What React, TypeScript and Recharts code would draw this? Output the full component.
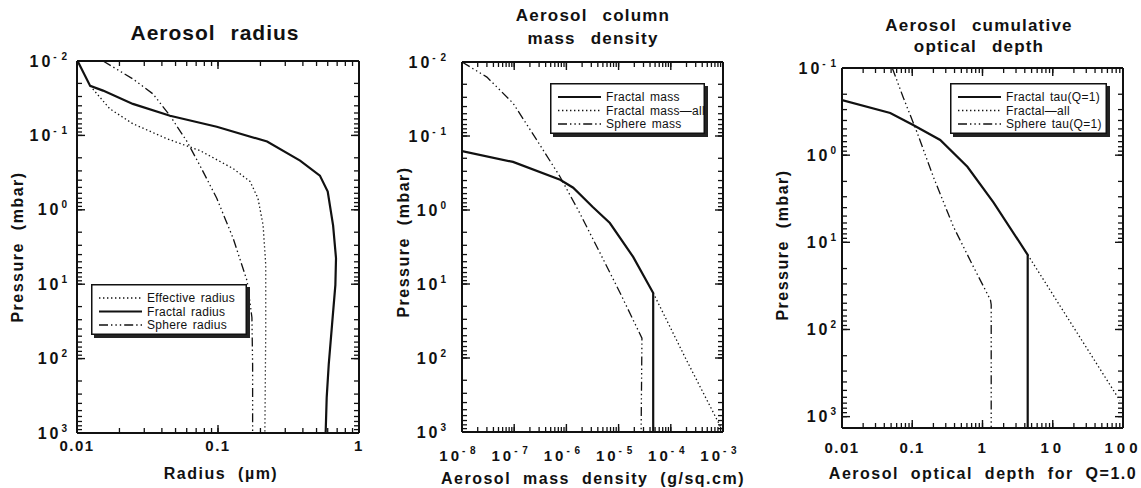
import React from "react";
import { LineChart, Line, XAxis, YAxis, Legend } from "recharts";

const FONT = '"Liberation Sans", Arial, Helvetica, sans-serif';
const INK = "#111";

// --- aerosol radius (um) vs pressure (mbar)
const fractalRadiusP = [0.01, 0.0216, 0.025, 0.0377, 0.0544, 0.0766, 0.121, 0.218, 0.347, 0.567, 1.62, 4.47, 10.2, 35, 120, 335, 1000];
const fractalRadiusR = [0.0101, 0.0124, 0.0153, 0.0249, 0.0457, 0.098, 0.223, 0.382, 0.528, 0.6, 0.655, 0.687, 0.68, 0.644, 0.61, 0.59, 0.58];
const effectiveRadiusP = [0.0216, 0.044, 0.0697, 0.111, 0.16, 0.279, 0.417, 0.7, 1.62, 5.5, 43, 1000];
const effectiveRadiusR = [0.0124, 0.0171, 0.0249, 0.0435, 0.0745, 0.128, 0.169, 0.192, 0.209, 0.218, 0.218, 0.215];
const sphereRadiusP = [0.01, 0.0174, 0.0277, 0.0544, 0.121, 0.255, 0.7, 2.41, 9.1, 28, 120, 1000];
const sphereRadiusR = [0.0153, 0.0249, 0.0346, 0.0457, 0.0603, 0.0745, 0.098, 0.128, 0.161, 0.174, 0.176, 0.176];

// --- column mass density (g/sq.cm) vs pressure
const fractalMassP = [0.16, 0.224, 0.39, 0.5, 0.91, 1.5, 4.3, 13.2, 1000];
const fractalMassM = [1e-8, 9.5e-8, 7.6e-7, 1.35e-6, 3.2e-6, 6.8e-6, 1.9e-5, 4.6e-5, 4.6e-5];
const fractalMassAllP = [13.2, 107, 850];
const fractalMassAllM = [4.6e-5, 2.0e-4, 9.0e-4];
const sphereMassP = [0.01, 0.016, 0.036, 0.113, 0.358, 1.1, 3.8, 13.2, 54, 1000];
const sphereMassM = [1e-8, 3.0e-8, 9.5e-8, 2.7e-7, 7.6e-7, 1.8e-6, 4.4e-6, 1.07e-5, 2.8e-5, 2.7e-5];

// --- cumulative optical depth (Q=1) vs pressure
const fractalTauP = [0.233, 0.328, 0.45, 0.67, 1.36, 3.5, 13.9, 1350];
const fractalTauT = [0.01, 0.0486, 0.103, 0.25, 0.61, 1.44, 4.4, 4.4];
const fractalAllP = [13.9, 650];
const fractalAllT = [4.4, 90];
const sphereTauP = [0.1, 0.215, 0.557, 1.78, 6.6, 19, 46, 52, 1350];
const sphereTauT = [0.052, 0.074, 0.118, 0.2, 0.385, 0.74, 1.3, 1.33, 1.33];

const DOTTED = "1.4 2.6";
const DASHDOT = "9 3 1.4 3 1.4 3 1.4 3";
const TICK_IN = 5; // inward tick length

type Pt = { x: number; p: number };
type Series = { name: string; data: Pt[]; dash?: string; width: number };

const zip = (xs: number[], ps: number[]): Pt[] => xs.map((x, i) => ({ x, p: ps[i] }));

// 1..9 x 10^e for every decade, plus the closing power of ten
const logTicks = (lo: number, hi: number) => {
  const out: number[] = [];
  for (let e = lo; e < hi; e++) for (let m = 1; m < 10; m++) out.push(m * Math.pow(10, e));
  out.push(Math.pow(10, hi));
  return out;
};

const isMajor = (v: number) => {
  const l = Math.log10(v);
  return Math.abs(l - Math.round(l)) < 1e-6;
};

const pow10 = (v: number) => {
  const e = Math.round(Math.log10(v));
  return (
    <>
      <tspan letterSpacing={3}>10</tspan>
      <tspan dy={-7} fontSize={10} letterSpacing={1}>{e < 0 ? `- ${-e}` : `${e}`}</tspan>
    </>
  );
};

const decimal = (v: number) => {
  if (v >= 10) return <tspan letterSpacing={4}>{String(Math.round(v))}</tspan>;
  return <tspan letterSpacing={1.5}>{String(Number(v.toPrecision(2)))}</tspan>;
};

// decade labels outside the frame, plus a longer inward mark at each decade
function AxisTick(props: any) {
  const { x, y, payload, side, format, gap = 8, dx = 0 } = props;
  const v = Number(payload.value);
  const major = isMajor(v);
  const px = Number(x);
  const py = Number(y);
  const ink = { stroke: INK, strokeWidth: 1.4 };
  const txt = { fill: INK, fontFamily: FONT, fontWeight: 700 };
  const len = 8;
  let mark = null;
  if (major) {
    if (side === "left") mark = <path d={`M${px},${py}h${len}`} {...ink} />;
    else if (side === "right") mark = <path d={`M${px},${py}h${-len}`} {...ink} />;
    else if (side === "top") mark = <path d={`M${px},${py}v${len}`} {...ink} />;
    else mark = <path d={`M${px},${py}v${-len}`} {...ink} />;
  }
  let label = null;
  if (major && format && side === "left") {
    label = (
      <text x={px - gap} y={py} dy="0.35em" textAnchor="end" fontSize={16} {...txt}>
        {format(v)}
      </text>
    );
  } else if (major && format && side === "bottom") {
    label = (
      <text x={px + dx} y={py + gap} textAnchor="middle" fontSize={15} {...txt}>
        {format(v)}
      </text>
    );
  }
  return (
    <g>
      {mark}
      {label}
    </g>
  );
}

function LegendBox({ series, width }: { series: Series[]; width: number }) {
  const height = 51;
  return (
    <svg width={width + 4} height={height + 4} style={{ display: "block" }}>
      <rect x={3} y={3} width={width} height={height} fill="#222" />
      <rect x={0.75} y={0.75} width={width - 1.5} height={height - 1.5} fill="#fff" stroke={INK} strokeWidth={1.5} />
      {series.map((s, i) => {
        const ry = 14 + i * 13.5;
        return (
          <g key={s.name}>
            <line x1={8} x2={51} y1={ry} y2={ry} stroke={INK} strokeWidth={s.width} strokeDasharray={s.dash} />
            <text x={56} y={ry} dy="0.35em" fontSize={12} fontFamily={FONT} fill={INK} letterSpacing={0.3} wordSpacing={1.5}>
              {s.name}
            </text>
          </g>
        );
      })}
    </svg>
  );
}

type PanelProps = {
  width: number;
  margin: { top: number; right: number; bottom: number; left: number };
  xDomain: [number, number];
  yDomain: [number, number];
  xTicks: number[];
  yTicks: number[];
  xFormat: (v: number) => React.ReactNode;
  xGap: number;
  xDx?: number;
  yGap: number;
  series: Series[];
  legendAt: { left: number; top: number; width: number };
};

function Panel(p: PanelProps) {
  const axisLine = { stroke: INK, strokeWidth: 2 };
  const tickLine = { stroke: INK, strokeWidth: 1.3 };
  // axes are 1px thick so they still render; margins are trimmed to compensate.
  // A negative tickSize turns the library's tick marks inward; tickMargin puts the label anchor back on the frame.
  const m = { top: p.margin.top - 1, right: p.margin.right - 1, bottom: p.margin.bottom - 1, left: p.margin.left - 1 };
  const common = {
    type: "number" as const,
    scale: "log" as const,
    allowDataOverflow: true,
    interval: 0 as const,
    tickSize: -TICK_IN,
    tickMargin: TICK_IN,
    tickLine,
    axisLine,
  };
  return (
    <LineChart width={p.width} height={488} margin={m}>
      <XAxis
        {...common}
        xAxisId="b"
        dataKey="x"
        domain={p.xDomain}
        ticks={p.xTicks}
        height={1}
        tick={(t: any) => <AxisTick {...t} side="bottom" format={p.xFormat} gap={p.xGap} dx={p.xDx} />}
      />
      <XAxis
        {...common}
        xAxisId="t"
        orientation="top"
        dataKey="x"
        domain={p.xDomain}
        ticks={p.xTicks}
        height={1}
        tick={(t: any) => <AxisTick {...t} side="top" />}
      />
      <YAxis
        {...common}
        yAxisId="l"
        dataKey="p"
        reversed
        domain={p.yDomain}
        ticks={p.yTicks}
        width={1}
        tick={(t: any) => <AxisTick {...t} side="left" format={pow10} gap={p.yGap} />}
      />
      <YAxis
        {...common}
        yAxisId="r"
        orientation="right"
        dataKey="p"
        reversed
        domain={p.yDomain}
        ticks={p.yTicks}
        width={1}
        tick={(t: any) => <AxisTick {...t} side="right" />}
      />
      {p.series.map((s) => (
        <Line
          key={s.name}
          xAxisId="b"
          yAxisId="l"
          data={s.data}
          dataKey="p"
          name={s.name}
          type="linear"
          stroke={INK}
          strokeWidth={s.width}
          strokeDasharray={s.dash}
          dot={false}
          activeDot={false}
          isAnimationActive={false}
        />
      ))}
      <Legend
        layout="horizontal"
        verticalAlign="middle"
        align="center"
        wrapperStyle={{ left: p.legendAt.left, top: p.legendAt.top, width: p.legendAt.width + 4, height: 55 }}
        content={() => <LegendBox series={p.series} width={p.legendAt.width} />}
      />
    </LineChart>
  );
}

const radiusSeries: Series[] = [
  { name: "Effective radius", data: zip(effectiveRadiusR, effectiveRadiusP), dash: DOTTED, width: 1.3 },
  { name: "Fractal radius", data: zip(fractalRadiusR, fractalRadiusP), width: 2.2 },
  { name: "Sphere radius", data: zip(sphereRadiusR, sphereRadiusP), dash: DASHDOT, width: 1.3 },
];

const massSeries: Series[] = [
  { name: "Fractal mass", data: zip(fractalMassM, fractalMassP), width: 2.2 },
  { name: "Fractal mass\u2014all", data: zip(fractalMassAllM, fractalMassAllP), dash: DOTTED, width: 1.3 },
  { name: "Sphere mass", data: zip(sphereMassM, sphereMassP), dash: DASHDOT, width: 1.3 },
];

const tauSeries: Series[] = [
  { name: "Fractal tau(Q=1)", data: zip(fractalTauT, fractalTauP), width: 2.2 },
  { name: "Fractal\u2014all", data: zip(fractalAllT, fractalAllP), dash: DOTTED, width: 1.3 },
  { name: "Sphere tau(Q=1)", data: zip(sphereTauT, sphereTauP), dash: DASHDOT, width: 1.3 },
];

const titleStyle = { fontFamily: FONT, fontWeight: 700, fill: INK } as const;

export default function App() {
  return (
    <div style={{ position: "absolute", left: 0, top: 0, width: 1141, height: 488, background: "#fff" }}>
      <svg width={1141} height={488} style={{ position: "absolute", left: 0, top: 0 }}>
        <text x={215} y={40} textAnchor="middle" fontSize={21} letterSpacing={1} wordSpacing={8} {...titleStyle}>
          Aerosol radius
        </text>
        <text x={593} y={21} textAnchor="middle" fontSize={17} letterSpacing={1.2} wordSpacing={9} {...titleStyle}>
          Aerosol column
        </text>
        <text x={593} y={44} textAnchor="middle" fontSize={17} letterSpacing={1.2} wordSpacing={9} {...titleStyle}>
          mass density
        </text>
        <text x={979} y={31} textAnchor="middle" fontSize={17} letterSpacing={1.2} wordSpacing={9} {...titleStyle}>
          Aerosol cumulative
        </text>
        <text x={979} y={52} textAnchor="middle" fontSize={17} letterSpacing={1.2} wordSpacing={9} {...titleStyle}>
          optical depth
        </text>

        <text transform="translate(23,247) rotate(-90)" textAnchor="middle" fontSize={16} letterSpacing={1.5} wordSpacing={6} {...titleStyle}>
          Pressure (mbar)
        </text>
        <text transform="translate(409,242) rotate(-90)" textAnchor="middle" fontSize={16} letterSpacing={1.5} wordSpacing={6} {...titleStyle}>
          Pressure (mbar)
        </text>
        <text transform="translate(788,245) rotate(-90)" textAnchor="middle" fontSize={16} letterSpacing={1.5} wordSpacing={6} {...titleStyle}>
          Pressure (mbar)
        </text>

        <text x={221} y={479} textAnchor="middle" fontSize={16} letterSpacing={1.5} wordSpacing={6} {...titleStyle}>
          Radius (µm)
        </text>
        <text x={593} y={484} textAnchor="middle" fontSize={16} letterSpacing={1.5} wordSpacing={6} {...titleStyle}>
          Aerosol mass density (g/sq.cm)
        </text>
        <text x={983} y={479} textAnchor="middle" fontSize={16} letterSpacing={1.5} wordSpacing={6} {...titleStyle}>
          Aerosol optical depth for Q=1.0
        </text>
      </svg>
      <div style={{ position: "absolute", left: 0, top: 0 }}>
        <Panel
          width={380}
          margin={{ top: 61, right: 21, bottom: 55, left: 77 }}
          xDomain={[0.01, 1]}
          yDomain={[0.01, 1000]}
          xTicks={logTicks(-2, 0)}
          yTicks={logTicks(-2, 3)}
          xFormat={decimal}
          xGap={18}
          yGap={9}
          series={radiusSeries}
          legendAt={{ left: 91, top: 284, width: 156 }}
        />
      </div>
      <div style={{ position: "absolute", left: 380, top: 0 }}>
        <Panel
          width={380}
          margin={{ top: 62, right: 37, bottom: 56, left: 82 }}
          xDomain={[1e-8, 1e-3]}
          yDomain={[0.01, 1000]}
          xTicks={logTicks(-8, -3)}
          yTicks={logTicks(-2, 3)}
          xFormat={pow10}
          xGap={29}
          xDx={-4}
          yGap={15}
          series={massSeries}
          legendAt={{ left: 170, top: 83, width: 155 }}
        />
      </div>
      <div style={{ position: "absolute", left: 760, top: 0 }}>
        <Panel
          width={381}
          margin={{ top: 68, right: 18, bottom: 60, left: 82 }}
          xDomain={[0.01, 100]}
          yDomain={[0.1, 1350]}
          xTicks={logTicks(-2, 2)}
          yTicks={logTicks(-1, 3)}
          xFormat={decimal}
          xGap={25}
          yGap={5}
          series={tauSeries}
          legendAt={{ left: 190, top: 83, width: 157 }}
        />
      </div>
    </div>
  );
}
